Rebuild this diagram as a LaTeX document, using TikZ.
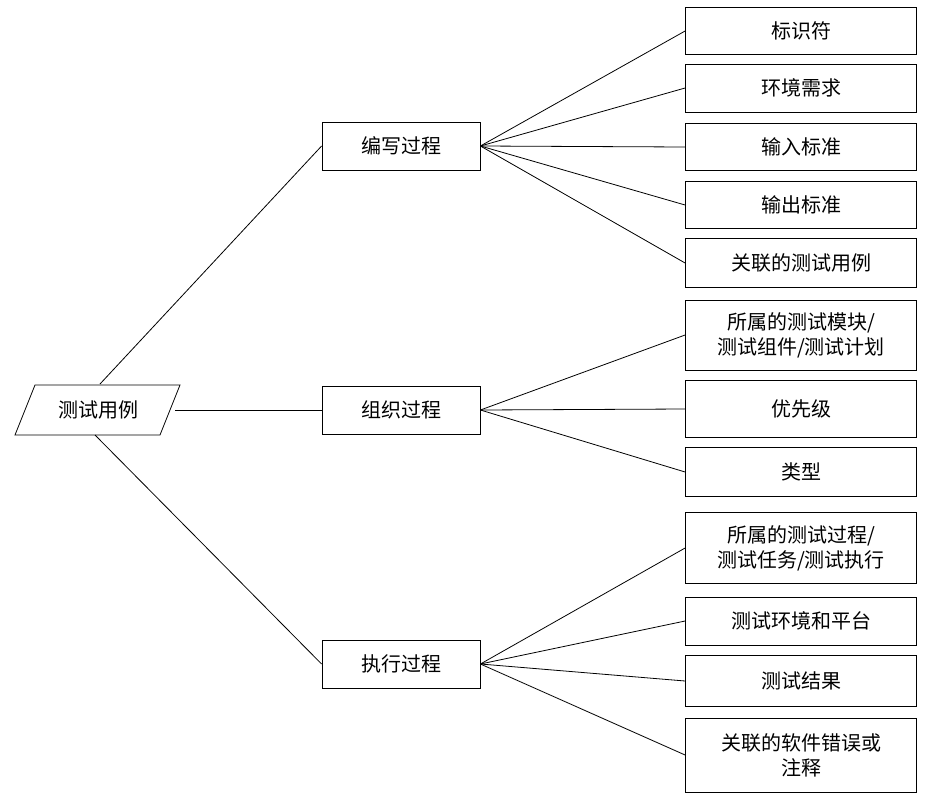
\documentclass[tikz,border=0pt]{standalone}
\usepackage{fontspec}
\setmainfont{Noto Sans CJK SC}
\begin{document}
\begin{tikzpicture}[x=1pt,y=-1pt,
  box/.style={draw,line width=0.8pt,minimum width=158pt,minimum height=48pt,inner sep=0pt,font=\fontsize{20}{24}\selectfont},
  leaf/.style={draw,line width=0.8pt,minimum width=231pt,inner sep=0pt,align=center,font=\fontsize{20}{25}\selectfont},
  ln/.style={line width=0.8pt}]
\useasboundingbox (0,0) rectangle (934,806);
% root parallelogram
\coordinate (r1) at (35,385);
\coordinate (r2) at (180,385);
\coordinate (r3) at (160,435);
\coordinate (r4) at (15,435);
\draw[ln] (r1)--(r2)--(r3)--(r4)--cycle;
\node[font=\fontsize{20}{24}\selectfont] (root) at (98,410) {测试用例};
\coordinate (rt) at (100,384);
\coordinate (rr) at (175,410);
\coordinate (rb) at (95,435);
\node[box] (a) at (401,146) {编写过程};
\node[box] (b) at (401,410) {组织过程};
\node[box] (c) at (401,664) {执行过程};
\node[leaf,minimum height=47pt] (a1) at (801,31) {标识符};
\node[leaf,minimum height=48pt] (a2) at (801,88) {环境需求};
\node[leaf,minimum height=47pt] (a3) at (801,147) {输入标准};
\node[leaf,minimum height=47pt] (a4) at (801,205) {输出标准};
\node[leaf,minimum height=49pt] (a5) at (801,263) {关联的测试用例};
\node[leaf,minimum height=70pt] (b1) at (801,335) {所属的测试模块/\\测试组件/测试计划};
\node[leaf,minimum height=57pt] (b2) at (801,409) {优先级};
\node[leaf,minimum height=49pt] (b3) at (801,472) {类型};
\node[leaf,minimum height=71pt] (c1) at (801,548) {所属的测试过程/\\测试任务/测试执行};
\node[leaf,minimum height=48pt] (c2) at (801,621) {测试环境和平台};
\node[leaf,minimum height=51pt] (c3) at (801,681) {测试结果};
\node[leaf,minimum height=74pt] (c4) at (801,755) {关联的软件错误或\\注释};
\draw[ln] (rt)--(a.west);
\draw[ln] (rr)--(b.west);
\draw[ln] (rb)--(c.west);
\foreach \t in {a1,a2,a3,a4,a5} \draw[ln] (a.east)--(\t.west);
\foreach \t in {b1,b2,b3} \draw[ln] (b.east)--(\t.west);
\foreach \t in {c1,c2,c3,c4} \draw[ln] (c.east)--(\t.west);
\end{tikzpicture}
\end{document}
